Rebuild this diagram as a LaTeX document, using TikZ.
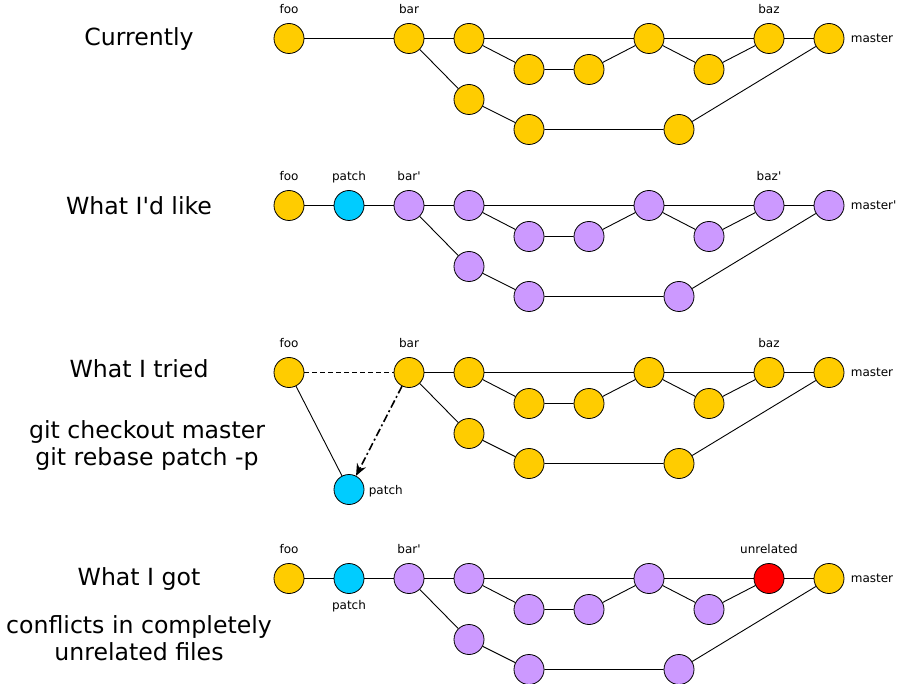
\documentclass[tikz,border=0pt]{standalone}
\usepackage{fontspec}
\setmainfont{DejaVu Sans}
\newfontfamily\plainsans{DejaVu Sans}
\usetikzlibrary{arrows.meta}
\definecolor{gold}{HTML}{FFCC00}
\definecolor{lilac}{HTML}{CC99FF}
\definecolor{sky}{HTML}{00CCFF}
\definecolor{bright}{HTML}{FF0000}
\tikzstyle{commit} = [circle, draw, minimum size=30pt, inner sep=0pt, line width=0.8pt]
\tikzstyle{orig} = [commit, fill=gold]
\tikzstyle{rebased} = [commit, fill=lilac]
\tikzstyle{patchc} = [commit, fill=sky]
\tikzstyle{conflict} = [commit, fill=bright]
\tikzstyle{tag} = [font=\plainsans\fontsize{12}{14}\selectfont, inner sep=0pt, text depth=0pt]
\tikzstyle{caption} = [font=\plainsans\fontsize{23.6}{27}\selectfont, align=center]

\begin{document}
\begin{tikzpicture}[x=1pt, y=-1pt, line width=0.9pt]
    \useasboundingbox (0,-0.5) rectangle (899,683.5);
    % currently
    \node [caption] at (139,38) {Currently};
    \node (a1) [orig] at (289,38) {};
    \node (b1) [orig] at (409,38) {};
    \node (c1) [orig] at (469,38) {};
    \node (d1) [orig] at (529,69) {};
    \node (e1) [orig] at (589,69) {};
    \node (f1) [orig] at (649,38) {};
    \node (g1) [orig] at (709,69) {};
    \node (h1) [orig] at (769,38) {};
    \node (m1) [orig] at (829,38) {};
    \node (p1) [orig] at (469,99) {};
    \node (q1) [orig] at (529,129) {};
    \node (s1) [orig] at (679,129) {};
    \node [tag, above=9pt] at (a1.north) {foo};
    \node [tag, above=9pt] at (b1.north) {bar};
    \node [tag, above=9pt] at (h1.north) {baz};
    \node [tag, right=6pt] at (m1.east) {master};
    \draw (a1) -- (b1) -- (c1) -- (f1) -- (h1) -- (m1);
    \draw (c1) -- (d1) -- (e1) -- (f1) -- (g1) -- (h1);
    \draw (b1) -- (p1) -- (q1) -- (s1) -- (m1);

    % what I'd like
    \node [caption] at (139,205) {What I'd like};
    \node (a2) [orig] at (289,205) {};
    \node (x2) [patchc] at (349,205) {};
    \node (b2) [rebased] at (409,205) {};
    \node (c2) [rebased] at (469,205) {};
    \node (d2) [rebased] at (529,236) {};
    \node (e2) [rebased] at (589,236) {};
    \node (f2) [rebased] at (649,205) {};
    \node (g2) [rebased] at (709,236) {};
    \node (h2) [rebased] at (769,205) {};
    \node (m2) [rebased] at (829,205) {};
    \node (p2) [rebased] at (469,266) {};
    \node (q2) [rebased] at (529,296) {};
    \node (s2) [rebased] at (679,296) {};
    \node [tag, above=9pt] at (a2.north) {foo};
    \node [tag, above=9pt] at (x2.north) {patch};
    \node [tag, above=9pt] at (b2.north) {bar'};
    \node [tag, above=9pt] at (h2.north) {baz'};
    \node [tag, right=6pt] at (m2.east) {master'};
    \draw (a2) -- (x2) -- (b2) -- (c2) -- (f2) -- (h2) -- (m2);
    \draw (c2) -- (d2) -- (e2) -- (f2) -- (g2) -- (h2);
    \draw (b2) -- (p2) -- (q2) -- (s2) -- (m2);

    % what I tried
    \node [caption] at (139,368) {What I tried};
    \node [caption] at (147,445) {git checkout master\\git rebase patch -p};
    \node (a3) [orig] at (289,372) {};
    \node (b3) [orig] at (409,372) {};
    \node (c3) [orig] at (469,372) {};
    \node (d3) [orig] at (529,403) {};
    \node (e3) [orig] at (589,403) {};
    \node (f3) [orig] at (649,372) {};
    \node (g3) [orig] at (709,403) {};
    \node (h3) [orig] at (769,372) {};
    \node (m3) [orig] at (829,372) {};
    \node (p3) [orig] at (469,433) {};
    \node (q3) [orig] at (529,463) {};
    \node (s3) [orig] at (679,463) {};
    \node (x3) [patchc] at (349,489) {};
    \node [tag, above=9pt] at (a3.north) {foo};
    \node [tag, above=9pt] at (b3.north) {bar};
    \node [tag, above=9pt] at (h3.north) {baz};
    \node [tag, right=6pt] at (m3.east) {master};
    \node [tag, right=4pt] at (x3.east) {patch};
    \draw [dash pattern=on 5pt off 3pt] (a3) -- (b3);
    \draw (b3) -- (c3) -- (f3) -- (h3) -- (m3);
    \draw (c3) -- (d3) -- (e3) -- (f3) -- (g3) -- (h3);
    \draw (b3) -- (p3) -- (q3) -- (s3) -- (m3);
    \draw (a3) -- (x3);
    \draw [line width=1.6pt, dash pattern=on 8pt off 3pt on 2pt off 3pt,
        -{Stealth[length=12pt, width=10pt, inset=4pt]}] (b3) -- (x3);

    % what I got
    \node [caption] at (139,578) {What I got};
    \node [caption] at (139,638) {conflicts in completely\\unrelated files};
    \node (a4) [orig] at (289,578) {};
    \node (x4) [patchc] at (349,578) {};
    \node (b4) [rebased] at (409,578) {};
    \node (c4) [rebased] at (469,578) {};
    \node (d4) [rebased] at (529,609) {};
    \node (e4) [rebased] at (589,609) {};
    \node (f4) [rebased] at (649,578) {};
    \node (g4) [rebased] at (709,609) {};
    \node (h4) [conflict] at (769,578) {};
    \node (m4) [orig] at (829,578) {};
    \node (p4) [rebased] at (469,639) {};
    \node (q4) [rebased] at (529,669) {};
    \node (s4) [rebased] at (679,669) {};
    \node [tag, above=9pt] at (a4.north) {foo};
    \node [tag, below=6pt] at (x4.south) {patch};
    \node [tag, above=9pt] at (b4.north) {bar'};
    \node [tag, above=9pt] at (h4.north) {unrelated};
    \node [tag, right=6pt] at (m4.east) {master};
    \draw (a4) -- (x4) -- (b4) -- (c4) -- (f4) -- (h4) -- (m4);
    \draw (c4) -- (d4) -- (e4) -- (f4) -- (g4) -- (h4);
    \draw (b4) -- (p4) -- (q4) -- (s4) -- (m4);
\end{tikzpicture}
\end{document}
